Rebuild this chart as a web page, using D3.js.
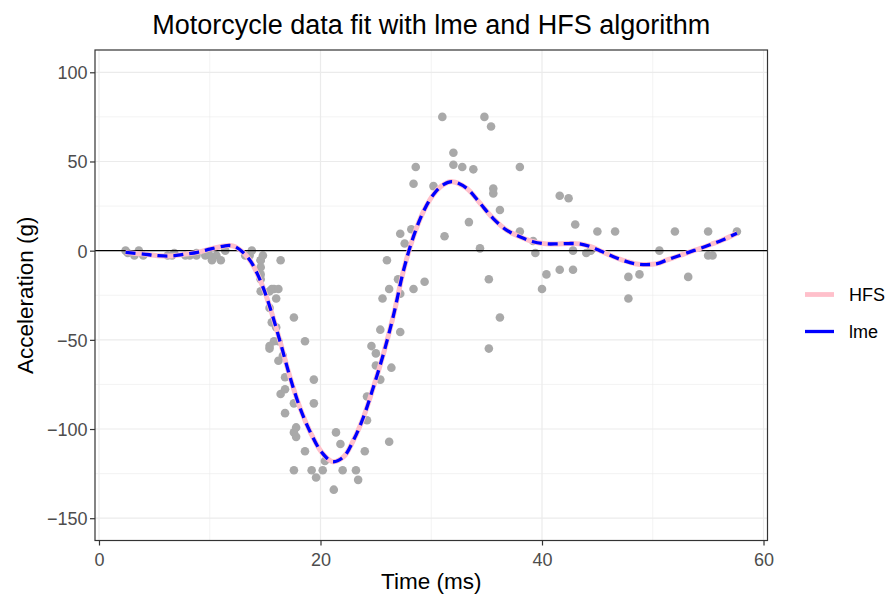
<!DOCTYPE html>
<html>
<head>
<meta charset="utf-8">
<script src="https://cdn.jsdelivr.net/npm/d3@7"></script>
<style>
  html, body { margin: 0; padding: 0; background: #fff; }
  svg { display: block; font-family: "Liberation Sans", Arial, sans-serif; }
</style>
</head>
<body>
<svg id="chart" width="888" height="595"></svg>
<script>
// ---- Data: mcycle observations ----
const times = [2.4, 2.6, 3.2, 3.6, 4.0, 6.2, 6.6, 6.8, 7.8, 8.2, 8.8, 8.8, 9.6, 10.0, 10.2, 10.6, 11.0, 11.4, 13.2, 13.6, 13.8, 14.6, 14.6, 14.6, 14.6, 14.6, 14.6, 14.8, 15.4, 15.4, 15.4, 15.4, 15.6, 15.6, 15.8, 15.8, 16.0, 16.0, 16.2, 16.2, 16.2, 16.4, 16.4, 16.6, 16.8, 16.8, 16.8, 17.6, 17.6, 17.6, 17.6, 17.8, 17.8, 18.6, 18.6, 19.2, 19.4, 19.4, 19.6, 20.2, 20.4, 21.2, 21.4, 21.8, 22.0, 23.2, 23.4, 24.0, 24.2, 24.2, 24.6, 25.0, 25.0, 25.4, 25.4, 25.6, 26.0, 26.2, 26.2, 26.4, 27.0, 27.2, 27.2, 27.2, 27.6, 28.2, 28.4, 28.4, 28.6, 29.4, 30.2, 31.0, 31.2, 32.0, 32.0, 32.8, 33.4, 33.8, 34.4, 34.8, 35.2, 35.2, 35.4, 35.6, 35.6, 36.2, 36.2, 38.0, 38.0, 39.2, 39.4, 40.0, 40.4, 41.6, 41.6, 42.4, 42.8, 42.8, 43.0, 44.0, 44.4, 45.0, 46.6, 47.8, 47.8, 48.8, 50.6, 52.0, 53.2, 55.0, 55.0, 55.4, 57.6];
const accel = [0.0, -1.3, -2.7, 0.0, -2.7, -2.7, -2.7, -1.3, -2.7, -2.7, -1.3, -2.7, -2.7, -2.7, -5.4, -2.7, -5.4, 0.0, -2.7, -2.7, 0.0, -13.3, -5.4, -5.4, -9.3, -16.0, -22.8, -2.7, -22.8, -32.1, -53.5, -54.9, -40.2, -21.5, -21.5, -50.8, -42.9, -26.8, -21.5, -50.8, -61.7, -5.4, -80.4, -59.0, -71.0, -91.1, -77.7, -37.5, -85.6, -123.1, -101.9, -99.1, -104.4, -112.5, -50.8, -123.1, -85.6, -72.3, -127.2, -123.1, -117.9, -134.0, -101.9, -108.4, -123.1, -123.1, -128.5, -112.5, -95.1, -81.8, -53.5, -64.4, -57.6, -72.3, -44.3, -26.8, -5.4, -107.1, -21.5, -65.6, -16.0, -45.6, -24.2, 9.5, 4.0, 12.0, -21.5, 37.5, 46.9, -17.4, 36.2, 75.0, 8.1, 54.9, 48.2, 46.9, 16.0, 45.6, 1.3, 75.0, -16.0, -54.9, 69.6, 34.8, 32.1, -37.5, 22.8, 46.9, 10.7, 5.4, -1.3, -21.5, -13.3, 30.8, -10.7, 29.4, 0.0, -10.7, 14.7, -1.3, 0.0, 10.7, 10.7, -26.8, -14.7, -13.3, 0.0, 10.7, -14.7, -2.7, 10.7, -2.7, 10.7];

// ---- Fitted curve (HFS and lme coincide) ----
const fitTime = [2.4, 4, 5.3, 6.5, 7.7, 8.9, 10.1, 11.3, 11.8, 12.3, 13.1, 13.7, 14.3, 14.9, 15.5, 16.4, 17.3, 18.2, 19.1, 20.1, 21.1, 22.1, 23, 23.9, 24.8, 25.7, 26.6, 27.5, 28.4, 29.3, 30.2, 31.1, 31.9, 33.2, 34.4, 35.6, 36.8, 38, 39.2, 40.4, 41.4, 42.4, 43.4, 44.4, 45.4, 46.4, 47.4, 48.4, 49.4, 50.4, 51.3, 52.3, 53.3, 54.3, 55.3, 56.3, 57.6];
const fitHFS = [-1, -1.9, -2.8, -3, -2, -0.9, 1, 2.6, 2.9, 2.2, -1.5, -6, -13, -22, -33, -52, -72, -89, -102, -113, -118.3, -115.5, -106, -93, -76, -57.5, -36, -11, 8, 22, 31.5, 37, 38.7, 35, 26.6, 18, 11.5, 7.8, 5, 3.8, 3.8, 4, 3.8, 2.2, -0.5, -3.3, -5.6, -7.3, -7.8, -7.3, -5.2, -3, -0.8, 1.3, 3.6, 6, 9.8];
const fitLme = [-1, -1.9, -2.8, -3, -2, -0.9, 1, 2.6, 2.9, 2.2, -1.5, -6, -13, -22, -33, -52, -72, -89, -102, -113, -118.3, -115.5, -106, -93, -76, -57.5, -36, -11, 8, 22, 31.5, 37, 38.7, 35, 26.6, 18, 11.5, 7.8, 5, 3.8, 3.8, 4, 3.8, 2.2, -0.5, -3.3, -5.6, -7.3, -7.8, -7.3, -5.2, -3, -0.8, 1.3, 3.6, 6, 9.8];

const xTicks = [0, 20, 40, 60];
const xMinor = [10, 30, 50];
const yTicks = [-150, -100, -50, 0, 50, 100];
const yMinor = [-125, -75, -25, 25, 75];
const seriesNames = ["HFS", "lme"];

// ---- Layout ----
const svg = d3.select("#chart");
const P = { left: 95, right: 767.5, top: 50, bottom: 540.5 };
const x = d3.scaleLinear().domain([-0.36, 60.36]).range([P.left, P.right]);
const y = d3.scaleLinear().domain([-162.5, 112.5]).range([P.bottom, P.top]);

// panel background
svg.append("rect").attr("x", P.left).attr("y", P.top)
  .attr("width", P.right - P.left).attr("height", P.bottom - P.top).attr("fill", "#fff");

// grid
const grid = svg.append("g");
xMinor.forEach(v => grid.append("line").attr("x1", x(v)).attr("x2", x(v)).attr("y1", P.top).attr("y2", P.bottom)
  .attr("stroke", "#EBEBEB").attr("stroke-width", 0.6));
yMinor.forEach(v => grid.append("line").attr("y1", y(v)).attr("y2", y(v)).attr("x1", P.left).attr("x2", P.right)
  .attr("stroke", "#EBEBEB").attr("stroke-width", 0.6));
xTicks.forEach(v => grid.append("line").attr("x1", x(v)).attr("x2", x(v)).attr("y1", P.top).attr("y2", P.bottom)
  .attr("stroke", "#EBEBEB").attr("stroke-width", 1.2));
yTicks.forEach(v => grid.append("line").attr("y1", y(v)).attr("y2", y(v)).attr("x1", P.left).attr("x2", P.right)
  .attr("stroke", "#EBEBEB").attr("stroke-width", 1.2));

// points
svg.append("g").selectAll("circle").data(times.map((t, i) => [t, accel[i]])).join("circle")
  .attr("cx", d => x(d[0])).attr("cy", d => y(d[1])).attr("r", 4.3).attr("fill", "#A9A9A9");

// zero line
svg.append("line").attr("x1", P.left).attr("x2", P.right).attr("y1", y(0)).attr("y2", y(0))
  .attr("stroke", "#000").attr("stroke-width", 1.1);

// fitted lines
const line = d3.line().x(d => x(d[0])).y(d => y(d[1])).curve(d3.curveCatmullRom.alpha(0.5));
svg.append("path").attr("d", line(fitTime.map((t, i) => [t, fitHFS[i]])))
  .attr("fill", "none").attr("stroke", "#FFC0CB").attr("stroke-width", 5);
svg.append("path").attr("d", line(fitTime.map((t, i) => [t, fitLme[i]])))
  .attr("fill", "none").attr("stroke", "#0000FF").attr("stroke-width", 3.3)
  .attr("stroke-dasharray", "10,6");

// panel border
svg.append("rect").attr("x", P.left).attr("y", P.top)
  .attr("width", P.right - P.left).attr("height", P.bottom - P.top)
  .attr("fill", "none").attr("stroke", "#333333").attr("stroke-width", 1.2);

// axes
const xAxis = svg.append("g").attr("transform", `translate(0,${P.bottom})`)
  .call(d3.axisBottom(x).tickValues(xTicks).tickSize(5).tickPadding(7.5).tickFormat(d3.format("d")));
const yAxis = svg.append("g").attr("transform", `translate(${P.left},0)`)
  .call(d3.axisLeft(y).tickValues(yTicks).tickSize(5).tickPadding(2.5)
    .tickFormat(d => d < 0 ? "\u2212" + Math.abs(d) : String(d)));
[xAxis, yAxis].forEach(a => {
  a.select(".domain").remove();
  a.selectAll(".tick line").attr("stroke", "#333333").attr("stroke-width", 1.2);
  a.selectAll(".tick text").attr("fill", "#4D4D4D").attr("font-size", "18px")
    .attr("font-family", "Liberation Sans, Arial, sans-serif");
});
yAxis.selectAll(".tick text").attr("dy", "0.36em");

// titles
svg.append("text").attr("x", (P.left + P.right) / 2).attr("y", 34).attr("text-anchor", "middle")
  .attr("font-size", "27px").attr("fill", "#000").text("Motorcycle data fit with lme and HFS algorithm");
svg.append("text").attr("x", (P.left + P.right) / 2).attr("y", 589).attr("text-anchor", "middle")
  .attr("font-size", "22.5px").attr("fill", "#000").text("Time (ms)");
svg.append("text").attr("transform", `translate(33,${(P.top + P.bottom) / 2}) rotate(-90)`)
  .attr("text-anchor", "middle").attr("font-size", "22.5px").attr("fill", "#000").text("Acceleration (g)");

// legend
const legend = svg.append("g");
const legColors = ["#FFC0CB", "#0000FF"];
const legWidths = [4.8, 3.3];
seriesNames.forEach((name, i) => {
  const ly = 294.5 + i * 37;
  legend.append("line").attr("x1", 805).attr("x2", 834).attr("y1", ly).attr("y2", ly)
    .attr("stroke", legColors[i]).attr("stroke-width", legWidths[i]);
  legend.append("text").attr("x", 849).attr("y", ly + 6.5).attr("font-size", "18px").attr("fill", "#000").text(name);
});
</script>
</body>
</html>
